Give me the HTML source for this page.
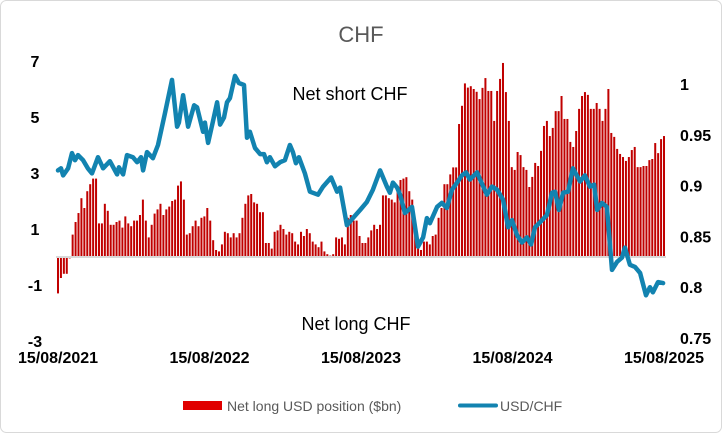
<!DOCTYPE html>
<html><head><meta charset="utf-8"><style>
html,body{margin:0;padding:0;background:#fff;}
svg{display:block;font-family:"Liberation Sans",sans-serif;}
</style></head><body>
<svg id="chart" width="722" height="433" viewBox="0 0 722 433">
<rect x="0.5" y="0.5" width="721" height="432" rx="6" fill="#fff" stroke="#d9d9d9"/>
<text x="361" y="42" text-anchor="middle" font-size="22" fill="#595959">CHF</text>
<text x="350" y="100" text-anchor="middle" font-size="18" fill="#000">Net short CHF</text>
<text x="356" y="330" text-anchor="middle" font-size="18" fill="#000">Net long CHF</text>
<g id="bars"></g>
<line x1="56" x2="666" y1="257" y2="257" stroke="#d9d9d9" stroke-width="2"/>
<path id="usdchf" fill="none" stroke="#1283b0" stroke-width="4.5" stroke-linejoin="round" stroke-linecap="round"/>
<g id="laxis"></g>
<g id="raxis"></g>
<g id="xaxis"></g>
<g>
<rect x="183" y="401" width="39" height="9" fill="#e00000"/>
<text x="227" y="411" font-size="14" fill="#595959">Net long USD position ($bn)</text>
<line x1="460" x2="496" y1="405.5" y2="405.5" stroke="#1283b0" stroke-width="4" stroke-linecap="round"/>
<text x="500" y="411" font-size="14" fill="#595959">USD/CHF</text>
</g>
</svg>
<script>
const positions = [-1.3,-0.75,-0.6,-0.6,-0.05,0.8,1.25,1.57,2.1,1.75,2.35,2.6,2.8,2.8,1.2,1.2,1.9,1.65,1.15,1.15,1.25,1.3,1.05,1.45,1.2,1.1,1.3,1.3,1.5,2.05,1.3,0.7,1.15,1.55,1.7,1.9,1.5,1.7,1.8,2.0,2.05,2.55,2.7,2.05,0.8,0.85,1.1,1.3,1.1,1.4,1.45,1.75,1.3,0.6,0.25,0.2,0.45,0.9,0.85,0.7,0.85,0.7,0.85,1.4,1.9,2.2,2.25,1.95,1.9,1.6,1.6,0.5,0.5,0.3,
0.9,0.95,1.15,1.0,0.8,0.9,0.85,0.55,0.45,0.9,0.75,1.0,0.85,0.55,0.45,0.35,0.55,0.2,0.1,0.05,0.1,0.7,0.65,0.7,0.45,1.4,1.5,1.3,1.3,0.75,0.5,0.5,0.7,0.95,1.15,1.0,1.15,2.2,2.2,2.1,2.05,1.95,2.35,2.75,2.8,2.85,2.35,2.05,1.15,0.4,0.25,0.55,0.55,0.45,0.75,0.8,1.4,1.75,2.6,2.6,2.95,3.2,3.2,4.75,5.4,6.2,6.05,6.1,6.0,5.9,5.64,
6.04,6.39,5.93,5.93,4.86,5.93,6.36,6.93,5.89,4.86,3.21,3.11,3.75,3.64,3.21,3.11,2.5,2.86,3.36,3.25,3.79,4.68,4.86,4.32,4.61,5.21,5.21,5.75,4.93,4.93,4.11,3.93,4.5,5.29,5.75,5.89,5.79,5.29,5.29,5.5,5.29,4.86,5.29,6.0,4.43,4.29,3.86,3.68,3.57,3.43,3.57,3.82,3.93,3.21,3.21,3.25,3.25,3.46,3.5,4.07,3.71,4.21,4.32];
const lineWeeks = [0,1,1.7,3.4,4.7,5.7,6.7,8.4,10,11.4,13.4,15.1,17.4,19.8,20.4,21.8,23.1,25.1,26.5,27.8,28.5,29.8,31.8,33.5,35.8,38.2,39.9,40.5,41.9,43.6,45.6,46.6,48.6,49.2,50.3,51.9,53.3,54.3,55.6,56.6,57.6,59.3,60.6,62.3,63.3,64.3,66,67.7,69,70,71,72.7,74.4,76,77.7,78.7,79.7,80.7,82.7,84.4,87.1,88.8,91.5,93.5,94.5,96.8,98.8,101.2,103.5,105.5,107.9,110.2,111.2,112.2,113.6,114.6,116.2,118.6,120.6,122.3,123.6,124.6,127,128.6,130.3,132,133.7,135.3,136.7,138,140.4,141.4,143.7,145.4,147.1,149.1,150.8,152.1,153.8,155.4,157.1,158.5,159.8,161.5,163.8,165.5,166.5,167.8,169.2,170.9,172.5,174.9,176.5,178.2,179.6,180.6,182.2,183.9,185.6,187.3,188.9,189.9,191.6,193.3,195,197,198.3,199.3,201,202.7];
const usdchf = [0.915,0.917,0.910,0.917,0.932,0.925,0.930,0.925,0.917,0.912,0.928,0.917,0.924,0.911,0.918,0.911,0.930,0.928,0.923,0.928,0.915,0.933,0.927,0.940,0.971,1.004,0.958,0.962,0.989,0.958,0.979,0.977,0.953,0.962,0.942,0.963,0.982,0.960,0.967,0.982,0.986,1.008,1.001,0.999,0.947,0.953,0.937,0.931,0.931,0.923,0.928,0.919,0.923,0.925,0.940,0.933,0.922,0.928,0.912,0.894,0.891,0.899,0.908,0.894,0.898,0.861,0.868,0.876,0.884,0.896,0.915,0.899,0.893,0.903,0.898,0.891,0.873,0.879,0.840,0.849,0.868,0.863,0.879,0.883,0.878,0.896,0.903,0.910,0.913,0.906,0.913,0.906,0.891,0.899,0.896,0.886,0.859,0.866,0.851,0.844,0.849,0.842,0.859,0.864,0.871,0.893,0.894,0.876,0.893,0.894,0.917,0.904,0.910,0.899,0.901,0.876,0.883,0.879,0.817,0.825,0.829,0.839,0.822,0.820,0.814,0.792,0.800,0.795,0.805,0.804];
const leftTicks = [7,5,3,1,-1,-3];
const rightTicks = ["1","0.95","0.9","0.85","0.8","0.75"];
const xLabels = ["15/08/2021","15/08/2022","15/08/2023","15/08/2024","15/08/2025"];

const NS = "http://www.w3.org/2000/svg";
const X0 = 58, X1 = 664;
const N = positions.length;
const step = (X1 - X0) / (N - 1);
const xOf = i => X0 + i * step;
const xWeek = w => X0 + w * 2.985;
const yL = v => 257 - v * 28;
const yR = v => 84 + (1 - v) * 1016;

const bars = document.getElementById('bars');
positions.forEach((v, i) => {
  const r = document.createElementNS(NS, 'rect');
  const y = Math.min(yL(v), yL(0));
  r.setAttribute('x', (xOf(i) - 1).toFixed(2));
  r.setAttribute('y', y.toFixed(2));
  r.setAttribute('width', 2);
  r.setAttribute('height', Math.abs(yL(v) - yL(0)).toFixed(2));
  r.setAttribute('fill', '#c00000');
  
  
  bars.appendChild(r);
});

let d = '';
usdchf.forEach((v, i) => {
  d += (i ? 'L' : 'M') + xWeek(lineWeeks[i]).toFixed(1) + ',' + yR(v).toFixed(1);
});
document.getElementById('usdchf').setAttribute('d', d);

const la = document.getElementById('laxis');
leftTicks.forEach(v => {
  const t = document.createElementNS(NS, 'text');
  t.setAttribute('x', 35); t.setAttribute('y', yL(v) + 6);
  t.setAttribute('text-anchor', 'middle'); t.setAttribute('font-size', '16');
  t.setAttribute('font-weight', 'bold');
  t.textContent = v;
  
  
  la.appendChild(t);
});
const ra = document.getElementById('raxis');
rightTicks.forEach(v => {
  const t = document.createElementNS(NS, 'text');
  t.setAttribute('x', 680); t.setAttribute('y', yR(parseFloat(v)) + 6);
  t.setAttribute('font-size', '16'); t.setAttribute('font-weight', 'bold');
  t.textContent = v;
  
  
  ra.appendChild(t);
});
const xa = document.getElementById('xaxis');
xLabels.forEach((s, i) => {
  const t = document.createElementNS(NS, 'text');
  t.setAttribute('x', X0 + i * (X1 - X0) / (xLabels.length - 1));
  t.setAttribute('y', 363);
  t.setAttribute('text-anchor', 'middle'); t.setAttribute('font-size', '16');
  t.setAttribute('font-weight', 'bold');
  t.textContent = s;
  
  
  xa.appendChild(t);
});
</script>
</body></html>
